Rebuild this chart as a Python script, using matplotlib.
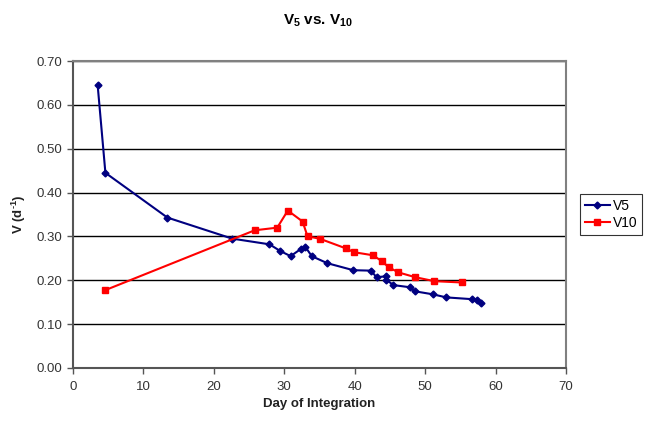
import matplotlib
matplotlib.use("Agg")
from matplotlib import pyplot as plt

plt.rcParams['font.family'] = ['Liberation Sans', 'DejaVu Sans']
plt.rcParams['mathtext.fontset'] = 'custom'
plt.rcParams['mathtext.bf'] = 'Liberation Sans:bold'
plt.rcParams['mathtext.rm'] = 'Liberation Sans:bold'

v5_day = [3.5, 4.6, 13.4, 22.6, 27.9, 29.4, 30.9, 32.4, 33.0, 33.9, 36.1, 39.8,
          42.3, 43.1, 44.4, 44.5, 45.5, 47.9, 48.5, 51.1, 53.0, 56.6, 57.3, 57.9]
v5 = [0.645, 0.445, 0.343, 0.295, 0.282, 0.267, 0.255, 0.272, 0.276, 0.255, 0.239, 0.223,
      0.222, 0.207, 0.209, 0.201, 0.189, 0.184, 0.175, 0.168, 0.161, 0.157, 0.155, 0.148]

v10_day = [4.5, 25.8, 29.0, 30.5, 32.6, 33.3, 35.0, 38.7, 39.9, 42.6, 43.9, 44.8,
           46.2, 48.6, 51.3, 55.2]
v10 = [0.177, 0.314, 0.320, 0.359, 0.334, 0.300, 0.295, 0.273, 0.264, 0.257, 0.243, 0.230,
       0.218, 0.207, 0.198, 0.195]

fig = plt.figure(figsize=(6.49, 4.22), dpi=100)
ax = fig.add_axes([73/649, 1 - 368/422, 493/649, 307/422])

ax.plot(v5_day, v5, color="#000080", marker="D", markersize=3.5, linewidth=1.5, label="V5")
ax.plot(v10_day, v10, color="#ff0000", marker="s", markersize=4.5, linewidth=1.5, label="V10")

ax.set_xlim(0, 70)
ax.set_ylim(0, 0.7)
ax.set_xticks(range(0, 71, 10))
ax.set_yticks([i / 10 for i in range(8)])
ax.set_yticklabels(["%.2f" % (i / 10) for i in range(8)])
ax.yaxis.grid(True, color="black", linewidth=1)
ax.set_axisbelow(True)

for s in ax.spines.values():
    s.set_color("#808080")
    s.set_linewidth(1.5)
ax.spines["left"].set_color("#555555")
ax.spines["bottom"].set_color("#555555")
ax.tick_params(axis="both", direction="out", length=4, width=1, color="#555555",
               labelsize=9.5, labelcolor="#333333")
ax.tick_params(axis="x", pad=5)

ax.set_xlabel("Day of Integration", fontsize=9.5, fontweight="bold", color="#222222")
ax.set_ylabel("V (d$^{\\text{-}1}$)", fontsize=9.5, fontweight="bold", color="#222222", labelpad=6)
fig.suptitle("V$_{\\mathbf{5}}$ vs. V$_{\\mathbf{10}}$", x=0.49, y=0.97, fontsize=11, fontweight="bold")

leg = ax.legend(loc="center left", bbox_to_anchor=(1.02, 0.5), fontsize=10, frameon=True,
                fancybox=False, borderpad=0.35, handlelength=1.8, handletextpad=0.2, labelspacing=0.25,
                borderaxespad=0.3)
leg.get_frame().set_edgecolor("black")
leg.get_frame().set_linewidth(0.8)

fig.savefig("out.png", dpi=100)
